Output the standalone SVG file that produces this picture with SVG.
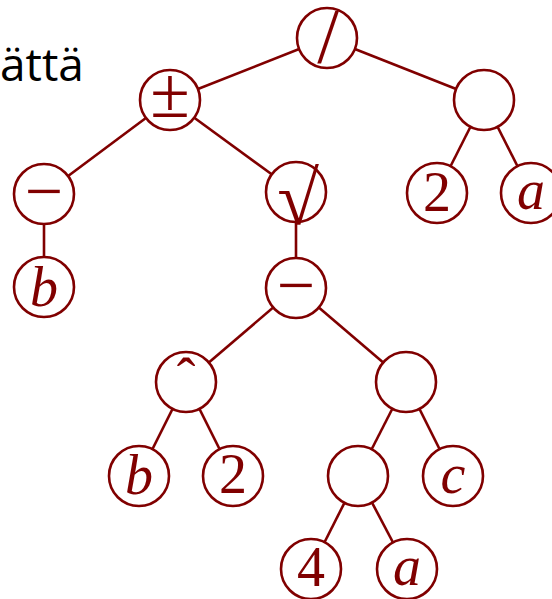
<svg xmlns="http://www.w3.org/2000/svg" width="552" height="599" viewBox="0 0 552 599">
<style>
.e{stroke:#800000;stroke-width:2.6;fill:none}
.n circle{fill:#fff;stroke:#800000;stroke-width:2.6}
</style>
<rect width="552" height="599" fill="#fff"/>
<text x="0" y="81" style="font-family:'Open Sans',sans-serif;font-size:46px" fill="#000">ättä</text>
<g id="edges" class="e">
<line x1="327" y1="38" x2="170" y2="100"/>
<line x1="327" y1="38" x2="484" y2="100"/>
<line x1="170" y1="100" x2="44" y2="194"/>
<line x1="170" y1="100" x2="296" y2="192"/>
<line x1="484" y1="100" x2="437" y2="193"/>
<line x1="484" y1="100" x2="531" y2="193"/>
<line x1="44" y1="194" x2="44" y2="287"/>
<line x1="296" y1="192" x2="296" y2="288"/>
<line x1="296" y1="288" x2="186" y2="382"/>
<line x1="296" y1="288" x2="406" y2="382"/>
<line x1="186" y1="382" x2="139" y2="476"/>
<line x1="186" y1="382" x2="233" y2="476"/>
<line x1="406" y1="382" x2="358" y2="476"/>
<line x1="406" y1="382" x2="453" y2="476"/>
<line x1="358" y1="476" x2="311" y2="569"/>
<line x1="358" y1="476" x2="407" y2="569"/>
</g>
<g id="n_div" class="n"><circle cx="327" cy="38" r="30"/><text x="328" y="62" style="font-family:'Liberation Serif',serif;font-size:78px" fill="#800000" text-anchor="middle">/</text></g>
<g id="n_pm" class="n"><circle cx="170" cy="100" r="30"/><text x="170" y="117" style="font-family:'Liberation Serif',serif;font-size:72px" fill="#800000" text-anchor="middle">±</text></g>
<g id="n_r1" class="n"><circle cx="484" cy="100" r="30"/></g>
<g id="n_m1" class="n"><circle cx="44" cy="194" r="30"/><text x="44" y="214" style="font-family:'Liberation Serif',serif;font-size:68px" fill="#800000" text-anchor="middle">−</text></g>
<g id="n_sqrt" class="n"><circle cx="296" cy="192" r="30"/><text x="298" y="224" style="font-family:'Liberation Serif',serif;font-size:76px" fill="#800000" text-anchor="middle">√</text></g>
<g id="n_2a" class="n"><circle cx="437" cy="193" r="30"/><text x="437" y="211" style="font-family:'Liberation Serif',serif;font-size:56px" fill="#800000" text-anchor="middle">2</text></g>
<g id="n_a1" class="n"><circle cx="531" cy="193" r="30"/><text x="531" y="209" style="font-family:'Liberation Serif',serif;font-size:56px;font-style:italic" fill="#800000" text-anchor="middle">a</text></g>
<g id="n_b1" class="n"><circle cx="44" cy="287" r="30"/><text x="44" y="306" style="font-family:'Liberation Serif',serif;font-size:56px;font-style:italic" fill="#800000" text-anchor="middle">b</text></g>
<g id="n_m2" class="n"><circle cx="296" cy="288" r="30"/><text x="296" y="308" style="font-family:'Liberation Serif',serif;font-size:68px" fill="#800000" text-anchor="middle">−</text></g>
<g id="n_hat" class="n"><circle cx="186" cy="382" r="30"/><text x="186" y="397" style="font-family:'Liberation Serif',serif;font-size:56px" fill="#800000" text-anchor="middle">ˆ</text></g>
<g id="n_e2" class="n"><circle cx="406" cy="382" r="30"/></g>
<g id="n_b2" class="n"><circle cx="139" cy="476" r="30"/><text x="139" y="494" style="font-family:'Liberation Serif',serif;font-size:56px;font-style:italic" fill="#800000" text-anchor="middle">b</text></g>
<g id="n_22" class="n"><circle cx="233" cy="476" r="30"/><text x="233" y="493" style="font-family:'Liberation Serif',serif;font-size:56px" fill="#800000" text-anchor="middle">2</text></g>
<g id="n_e3" class="n"><circle cx="358" cy="476" r="30"/></g>
<g id="n_c" class="n"><circle cx="453" cy="476" r="30"/><text x="453" y="493" style="font-family:'Liberation Serif',serif;font-size:56px;font-style:italic" fill="#800000" text-anchor="middle">c</text></g>
<g id="n_4" class="n"><circle cx="311" cy="569" r="30"/><text x="311" y="586" style="font-family:'Liberation Serif',serif;font-size:56px" fill="#800000" text-anchor="middle">4</text></g>
<g id="n_a2" class="n"><circle cx="407" cy="569" r="30"/><text x="407" y="585" style="font-family:'Liberation Serif',serif;font-size:56px;font-style:italic" fill="#800000" text-anchor="middle">a</text></g>
</svg>
